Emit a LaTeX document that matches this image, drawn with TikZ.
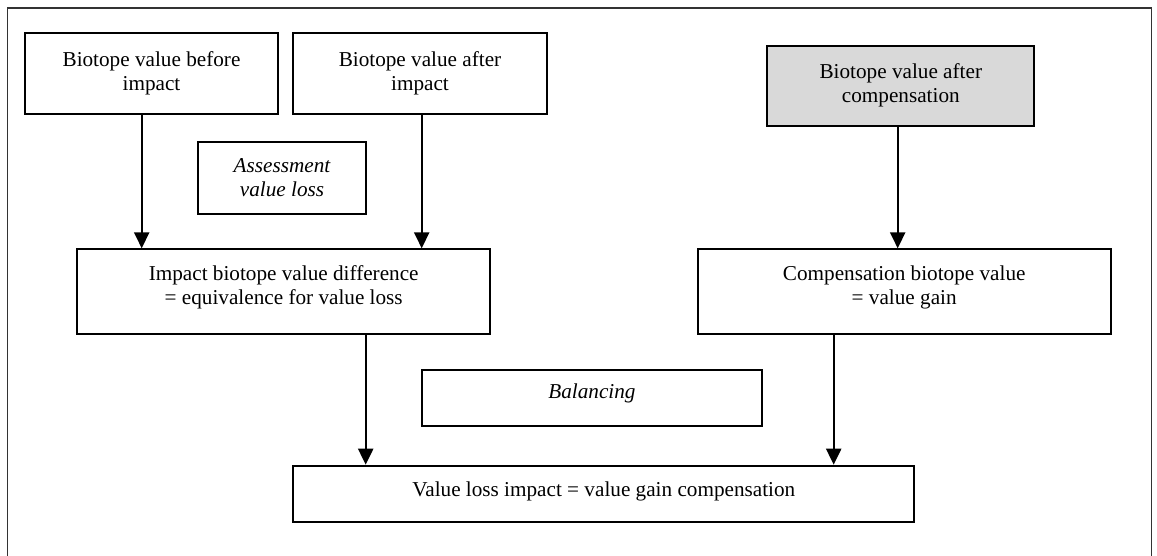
\documentclass[tikz,border=0pt]{standalone}
\usepackage{fontspec}
\setmainfont{Liberation Serif}
\usetikzlibrary{arrows.meta}
\begin{document}
\begin{tikzpicture}[x=1pt,y=-1pt,
  box/.style={draw=black,line width=2pt,align=center,inner sep=0pt,
    font=\fontsize{21.2}{24}\selectfont},
  greybox/.style={box,fill=black!15},
  arr/.style={line width=2.2pt,-{Triangle[length=16pt,width=15pt]}},
  frameline/.style={draw=black!80,line width=1.8pt}]
\useasboundingbox (0,0) rectangle (1157,556);
\clip (0,0) rectangle (1157,556);
\draw[frameline] (7.5,570) -- (7.5,8) -- (1151.5,8) -- (1151.5,570);
\node[box,minimum width=253pt,minimum height=80.7pt] (b1) at (151.5,73.7)
  {Biotope value before\\impact};
\node[box,minimum width=253.4pt,minimum height=80.7pt] (b2) at (420,73.7)
  {Biotope value after\\impact};
\node[greybox,minimum width=267pt,minimum height=80pt] (b3) at (900.8,85.7)
  {Biotope value after\\compensation};
\node[box,minimum width=168pt,minimum height=72.3pt,font=\fontsize{21.2}{24}\selectfont\itshape] (as) at (282,177.8)
  {Assessment\\value loss};
\node[box,minimum width=412.7pt,minimum height=84.7pt,text depth=13pt] (imp) at (283.7,291.7)
  {Impact biotope value difference\\= equivalence for value loss};
\node[box,minimum width=413pt,minimum height=84.7pt,text depth=13pt] (comp) at (904.2,291.7)
  {Compensation biotope value\\= value gain};
\node[box,minimum width=340.6pt,minimum height=55.7pt,text depth=13pt,font=\fontsize{21.2}{24}\selectfont\itshape] (bal) at (592,397.8)
  {Balancing};
\node[box,minimum width=621pt,minimum height=56.6pt,text depth=10pt] (fin) at (603.8,494)
  {Value loss impact = value gain compensation};
\draw[arr] (b1.south -| 141.7,0) -- (imp.north -| 141.7,0);
\draw[arr] (b2.south -| 421.7,0) -- (imp.north -| 421.7,0);
\draw[arr] (b3.south -| 897.7,0) -- (comp.north -| 897.7,0);
\draw[arr] (imp.south -| 365.7,0) -- (fin.north -| 365.7,0);
\draw[arr] (comp.south -| 833.7,0) -- (fin.north -| 833.7,0);
\end{tikzpicture}
\end{document}
